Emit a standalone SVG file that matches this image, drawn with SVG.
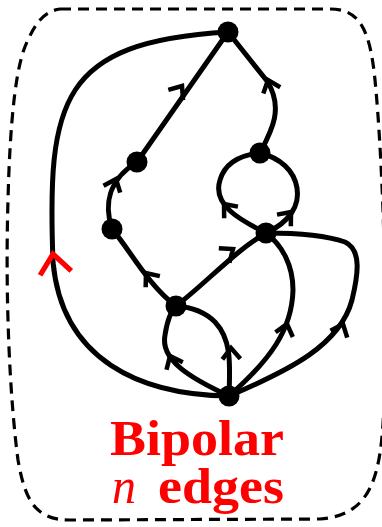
<svg xmlns="http://www.w3.org/2000/svg" xmlns:xlink="http://www.w3.org/1999/xlink" width="382" height="527" viewBox="0 0 382 527">
<style>
.edge{fill:none;stroke:#000;stroke-width:5;stroke-linecap:round}
.node{fill:#000}
.arr{fill:none;stroke:#000;stroke-width:4.5;stroke-linejoin:miter;stroke-linecap:butt}
.rarr{fill:none;stroke:#ff0000;stroke-width:3;stroke-linejoin:miter;stroke-linecap:butt}
.border{fill:none;stroke:#000;stroke-width:3.2;stroke-dasharray:11 7}
.lbl{font-family:"Liberation Serif","DejaVu Serif",serif;fill:#ff0000;font-size:51px}
</style>
<defs>
<path id="ah" d="M-11,-9 L0,0 L-11,9"/>
</defs>
<path class="border" d="M60,9 L330,9 C360,9 370,30 375,80 C382,150 388,300 384,400 C382,480 370,515 320,519 L70,520 C35,520 25,500 18,460 C10,400 5,300 8,200 C10,120 16,62 28,40 C36,22 45,11 60,9 Z"/>
<g id="connectors">
<path class="edge" d="M229,396 C140,395 62,360 53,262 C47,100 60,42 228,32"/>
<path class="edge" d="M137,162 L228,32"/>
<path class="edge" d="M260,153 C272,130 284,108 267,81 L228,32"/>
<path class="edge" d="M112,229 C104,205 108,180 137,162"/>
<path class="edge" d="M176,306 C148,285 130,250 112,229"/>
<path class="edge" d="M266,233 C240,220 212,205 220,180 C225,163 240,155 260,153"/>
<path class="edge" d="M266,233 C290,222 300,205 297,188 C294,170 280,158 260,153"/>
<path class="edge" d="M176,306 C206,283 236,250 266,233"/>
<path class="edge" d="M229,396 C190,378 160,360 165,335 C167,322 170,312 176,306"/>
<path class="edge" d="M229,396 C230,365 232,340 215,322 C205,312 190,307 176,306"/>
<path class="edge" d="M229,396 C270,360 292,330 293,290 C293,265 282,245 266,233"/>
<path class="edge" d="M229,396 C290,370 340,345 352,300 C358,275 362,250 345,242 C325,235 295,233 266,233"/>
<use xlink:href="#ah" class="arr" transform="translate(182,86) rotate(-55)"/>
<use xlink:href="#ah" class="arr" transform="translate(268,80) rotate(-110)"/>
<use xlink:href="#ah" class="arr" transform="translate(116,179) rotate(-68)"/>
<use xlink:href="#ah" class="arr" transform="translate(224,204) rotate(-130)"/>
<use xlink:href="#ah" class="arr" transform="translate(291,212) rotate(-50)"/>
<use xlink:href="#ah" class="arr" transform="translate(233,249) rotate(-36)"/>
<use xlink:href="#ah" class="arr" transform="translate(146,273) rotate(-128)"/>
<use xlink:href="#ah" class="arr" transform="translate(170,356) rotate(-115)"/>
<use xlink:href="#ah" class="arr" transform="translate(231,348) rotate(-92)"/>
<use xlink:href="#ah" class="arr" transform="translate(287,324) rotate(-75)"/>
<use xlink:href="#ah" class="arr" transform="translate(343,324) rotate(-68)"/>
<use xlink:href="#ah" class="rarr" transform="translate(53,254) rotate(-98) scale(1.75)"/>
</g>
<g id="node-T"><circle class="node" cx="228" cy="32" r="10.5"/></g>
<g id="node-A"><circle class="node" cx="137" cy="162" r="10.5"/></g>
<g id="node-B"><circle class="node" cx="112" cy="229" r="10.5"/></g>
<g id="node-C"><circle class="node" cx="260" cy="153" r="10.5"/></g>
<g id="node-D"><circle class="node" cx="266" cy="233" r="10.5"/></g>
<g id="node-E"><circle class="node" cx="176" cy="306" r="10.5"/></g>
<g id="node-S"><circle class="node" cx="229" cy="396" r="10.5"/></g>
<g id="label">
<text class="lbl" x="110" y="455" font-weight="bold" textLength="174" lengthAdjust="spacingAndGlyphs">Bipolar</text>
<text class="lbl" x="112" y="503" font-style="italic" textLength="24" lengthAdjust="spacingAndGlyphs">n</text>
<text class="lbl" x="158" y="503" font-weight="bold" textLength="126" lengthAdjust="spacingAndGlyphs">edges</text>
</g>
</svg>
